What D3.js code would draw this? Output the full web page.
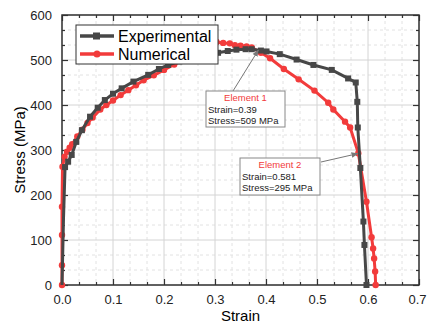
<!DOCTYPE html>
<html>
<head>
<meta charset="utf-8">
<script src="https://cdn.jsdelivr.net/npm/d3@7"></script>
<style>
  body { margin: 0; background: #fff; }
  text { font-family: "Liberation Sans", Arial, sans-serif; }
</style>
</head>
<body>
<svg id="chart" width="427" height="327"></svg>
<script>
// data: [strain, stress in MPa]
const experimental = [[0,0],[0.003,150],[0.006,262],[0.012,274],[0.019,289],[0.028,318],[0.039,344],
  [0.055,374],[0.07,394],[0.084,411],[0.1,425],[0.117,437],[0.14,452],[0.169,467],[0.19,480],
  [0.208,489],[0.23,497],[0.26,505],[0.285,511],[0.306,516],[0.325,520],[0.342,523],[0.36,524],
  [0.372,524],[0.39,521],[0.401,519],[0.427,513],[0.46,501],[0.493,489],[0.529,478],[0.561,459],
  [0.576,450],[0.579,407],[0.580,350],[0.585,260],[0.591,141],[0.593,89],[0.597,0]]

const numerical = [[0,0],[0,44],[0,111],[0,174],[0.001,263],[0.005,285],[0.01,296],[0.015,305],
  [0.02,313],[0.03,330],[0.04,345],[0.05,360],[0.06,372],[0.075,390],[0.087,400],[0.1,410],
  [0.115,422],[0.13,433],[0.145,444],[0.16,455],[0.18,466],[0.2,478],[0.22,490],[0.24,502],
  [0.27,520],[0.29,532],[0.303,540],[0.316,538],[0.329,537],[0.339,533],[0.35,532],[0.362,530],
  [0.372,528],[0.39,516],[0.408,504],[0.435,480],[0.464,457],[0.495,432],[0.522,405],[0.532,390],
  [0.555,363],[0.565,350],[0.581,293],[0.597,185],[0.607,106],[0.610,81],[0.612,59],[0.614,30],[0.615,0]]

const xTicks = [0, 0.1, 0.2, 0.3, 0.4, 0.5, 0.6, 0.7]
const yTicks = [0, 100, 200, 300, 400, 500, 600]

const seriesNames = ["Experimental", "Numerical"]
const seriesColors = ["#474747", "#f23b3b"]

const notes = [
  {title: "Element 1", lines: ["Strain=0.39", "Stress=509 MPa"], at: [0.385, 522]},
  {title: "Element 2", lines: ["Strain=0.581", "Stress=295 MPa"], at: [0.58, 292]}
]

var margin = {top: 15, right: 8, bottom: 42, left: 62},
    width = 427 - margin.left - margin.right,
    height = 327 - margin.top - margin.bottom;

const svg = d3.select("#chart")
const g = svg.append("g").attr("transform", "translate(" + margin.left + "," + margin.top + ")")

const x = d3.scaleLinear().domain([0, 0.7]).range([0, width])
const y = d3.scaleLinear().domain([0, 600]).range([height, 0])

// minor positions, two between each major
const xMinor = d3.range(0, 21).map(i => i * 0.7 / 21).filter((d, i) => i % 3 != 0)
const yMinor = d3.range(0, 18).map(i => i * 600 / 18).filter((d, i) => i % 3 != 0)

// grid
g.selectAll(".gx-minor").data(xMinor).enter().append("line")
 .attr("x1", d => x(d)).attr("x2", d => x(d)).attr("y1", 0).attr("y2", height)
 .attr("stroke", "#e2e2e2").attr("stroke-dasharray", "3,3")
g.selectAll(".gy-minor").data(yMinor).enter().append("line")
 .attr("y1", d => y(d)).attr("y2", d => y(d)).attr("x1", 0).attr("x2", width)
 .attr("stroke", "#e2e2e2").attr("stroke-dasharray", "3,3")
g.selectAll(".gx").data(xTicks).enter().append("line")
 .attr("x1", d => x(d)).attr("x2", d => x(d)).attr("y1", 0).attr("y2", height)
 .attr("stroke", "#d4d4d4")
g.selectAll(".gy").data(yTicks).enter().append("line")
 .attr("y1", d => y(d)).attr("y2", d => y(d)).attr("x1", 0).attr("x2", width)
 .attr("stroke", "#d4d4d4")

// axes, ticks inward on all four sides
const fmt = d3.format(".1f")
function styleAxis(sel) {
  sel.select(".domain").remove()
  sel.selectAll("line").attr("stroke", "#333").attr("stroke-width", 1.2)
  sel.selectAll("text").attr("font-size", 13).attr("fill", "#222")
}
const xAxis = g.append("g").attr("transform", "translate(0," + height + ")")
 .call(d3.axisBottom(x).tickValues(xTicks).tickFormat(fmt).tickSizeInner(-6).tickPadding(10)).call(styleAxis)
// keep the last label inside the window
xAxis.selectAll(".tick text").filter(d => d == 0.7).attr("dx", -2)
g.append("g").attr("transform", "translate(0," + height + ")")
 .call(d3.axisBottom(x).tickValues(xMinor).tickFormat("").tickSizeInner(-3)).call(styleAxis)
g.append("g")
 .call(d3.axisTop(x).tickValues(xTicks).tickFormat("").tickSizeInner(-6)).call(styleAxis)
g.append("g")
 .call(d3.axisTop(x).tickValues(xMinor).tickFormat("").tickSizeInner(-3)).call(styleAxis)
g.append("g")
 .call(d3.axisLeft(y).tickValues(yTicks).tickSizeInner(-6).tickPadding(10)).call(styleAxis)
g.append("g")
 .call(d3.axisLeft(y).tickValues(yMinor).tickFormat("").tickSizeInner(-3)).call(styleAxis)
g.append("g").attr("transform", "translate(" + width + ",0)")
 .call(d3.axisRight(y).tickValues(yTicks).tickFormat("").tickSizeInner(-6)).call(styleAxis)
g.append("g").attr("transform", "translate(" + width + ",0)")
 .call(d3.axisRight(y).tickValues(yMinor).tickFormat("").tickSizeInner(-3)).call(styleAxis)

g.append("rect")
 .attr("width", width).attr("height", height)
 .attr("fill", "none").attr("stroke", "#333").attr("stroke-width", 1.5)

// axis titles
g.append("text")
 .attr("x", width / 2).attr("y", height + 36)
 .attr("text-anchor", "middle").attr("font-size", 15)
 .text("Strain")
g.append("text")
 .attr("transform", "translate(" + (-37) + "," + (height / 2) + ") rotate(-90)")
 .attr("text-anchor", "middle").attr("font-size", 15)
 .text("Stress (MPa)")

// curves
const line = d3.line().x(d => x(d[0])).y(d => y(d[1]))
const plot = g.append("g")

plot.append("path").datum(numerical)
 .attr("d", line).attr("fill", "none")
 .attr("stroke", seriesColors[1]).attr("stroke-width", 3)
plot.selectAll(".num").data(numerical).enter().append("circle")
 .attr("cx", d => x(d[0])).attr("cy", d => y(d[1])).attr("r", 3.2)
 .attr("fill", seriesColors[1])

plot.append("path").datum(experimental)
 .attr("d", line).attr("fill", "none")
 .attr("stroke", seriesColors[0]).attr("stroke-width", 3)
plot.selectAll(".exp").data(experimental.slice(2)).enter().append("rect")
 .attr("x", d => x(d[0]) - 3).attr("y", d => y(d[1]) - 3)
 .attr("width", 6).attr("height", 6)
 .attr("fill", seriesColors[0])

// legend
const legend = g.append("g").attr("transform", "translate(14,10)")
legend.append("rect")
 .attr("width", 142).attr("height", 39)
 .attr("fill", "#fff").attr("stroke", "#333").attr("stroke-width", 1)
seriesNames.forEach(function(name, i) {
  var ly = 11 + i * 18
  legend.append("line")
        .attr("x1", 4).attr("x2", 38).attr("y1", ly).attr("y2", ly)
        .attr("stroke", seriesColors[i]).attr("stroke-width", 3.5)
  if (i == 0) {
    legend.append("rect").attr("x", 17).attr("y", ly - 3.5).attr("width", 7).attr("height", 7)
          .attr("fill", seriesColors[i])
  } else {
    legend.append("circle").attr("cx", 21).attr("cy", ly).attr("r", 3.5)
          .attr("fill", seriesColors[i])
  }
  legend.append("text")
        .attr("x", 42).attr("y", ly + 6)
        .attr("font-size", 16)
        .text(name)
})

// annotation boxes
svg.append("defs").append("marker")
   .attr("id", "arrow").attr("viewBox", "0 0 10 10")
   .attr("refX", 9).attr("refY", 5)
   .attr("markerWidth", 7).attr("markerHeight", 7)
   .attr("orient", "auto")
   .append("path").attr("d", "M0,1 L10,5 L0,9 Z").attr("fill", "#777")

const boxes = [{left: 206, top: 91, w: 79, h: 36, from: [233, 91]},
               {left: 240, top: 158, w: 80, h: 37, from: [321, 162]}]

notes.forEach(function(n, i) {
  var b = boxes[i]
  var tx = margin.left + x(n.at[0]), ty = margin.top + y(n.at[1])
  svg.append("line")
     .attr("x1", b.from[0]).attr("y1", b.from[1])
     .attr("x2", tx).attr("y2", ty)
     .attr("stroke", "#777").attr("stroke-width", 1)
     .attr("marker-end", "url(#arrow)")
  var box = svg.append("g").attr("transform", "translate(" + b.left + "," + b.top + ")")
  box.append("rect").attr("width", b.w).attr("height", b.h)
     .attr("fill", "#fff").attr("stroke", "#888").attr("stroke-width", 1)
  box.append("text").attr("x", b.w / 2).attr("y", 10)
     .attr("text-anchor", "middle").attr("font-size", 9.5).attr("fill", "#f23b3b")
     .text(n.title)
  n.lines.forEach(function(t, j) {
    box.append("text").attr("x", 2).attr("y", 22 + j * 11)
       .attr("font-size", 9.5).attr("fill", "#222")
       .text(t)
  })
})
</script>
</body>
</html>
